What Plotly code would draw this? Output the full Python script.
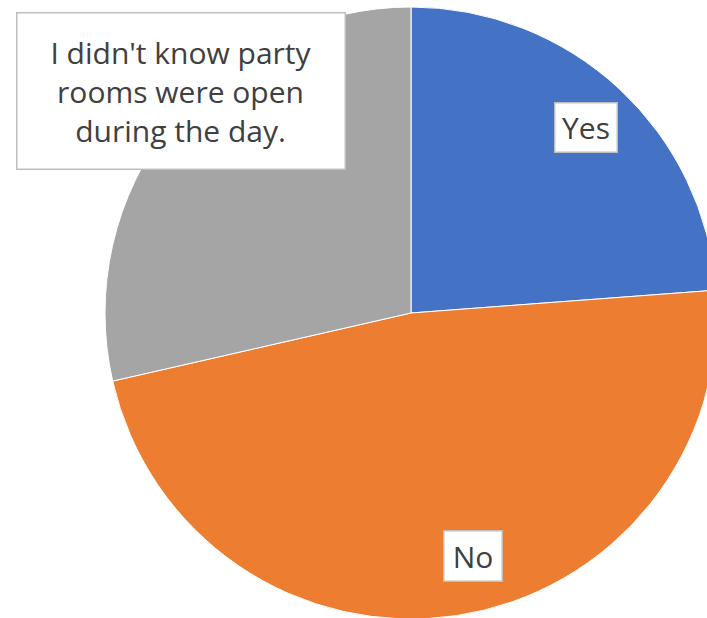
import plotly.graph_objects as go

# Data
categories = ["Yes", "No", "I didn't know party rooms were open during the day."]
label_text = ["Yes", "No", "I didn't know party<br>rooms were open<br>during the day."]
counts = [10, 20, 12]
colors = ["#4472C4", "#ED7D31", "#A5A5A5"]

# Canvas (slightly larger than the window so the pie is clipped on the right/bottom like the reference)
W, H = 720, 620
ML, MR, MT, MB = 105, 3, 7, 1

def px_to_paper(px, py):
    return (px - ML) / (W - ML - MR), 1 - (py - MT) / (H - MT - MB)

fig = go.Figure(
    go.Pie(
        labels=categories,
        values=counts,
        sort=False,
        direction="clockwise",
        rotation=0,
        marker=dict(colors=colors, line=dict(color="white", width=1)),
        textinfo="none",
        hoverinfo="label+value+percent",
        domain=dict(x=[0, 1], y=[0, 1]),
    )
)

# label boxes: (pixel center x, y, box width, box height)
boxes = [
    (585.5, 128.0, 61, 48),
    (472.5, 555.5, 57, 49),
    (180.5, 91.5, 327, 155),
]
anns = []
for txt, (cx, cy, bw, bh) in zip(label_text, boxes):
    x, y = px_to_paper(cx, cy)
    anns.append(
        dict(
            x=x, y=y, xref="paper", yref="paper",
            text=txt, showarrow=False,
            xanchor="center", yanchor="middle",
            width=bw, height=bh, align="center", valign="middle",
            bgcolor="white", bordercolor="#BFBFBF", borderwidth=1.5, borderpad=0,
            font=dict(family="Open Sans, sans-serif", size=30, color="#404040"),
        )
    )

fig.update_layout(
    width=W, height=H,
    margin=dict(l=ML, r=MR, t=MT, b=MB, pad=0),
    paper_bgcolor="white", plot_bgcolor="white",
    showlegend=False,
    annotations=anns,
)

fig.write_html(
    "out.html",
    config={"displayModeBar": False},
    post_script="document.body.style.margin='0';document.body.style.overflow='hidden';",
)
